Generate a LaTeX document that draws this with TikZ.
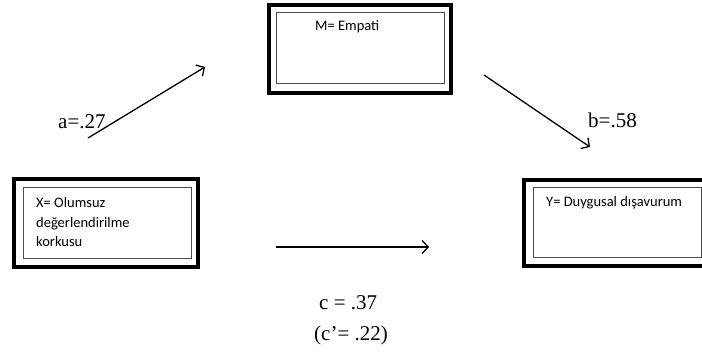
\documentclass[tikz,border=0pt]{standalone}
\usepackage{fontspec}
\setmainfont{Liberation Serif}
\newfontfamily\boxfont{Carlito}
\usetikzlibrary{arrows.meta}
\begin{document}
\begin{tikzpicture}[x=1pt,y=-1pt,
  outerbox/.style={draw=black,line width=4.2pt,minimum width=#1,inner sep=0pt},
  innerbox/.style={draw=black!70,line width=0.9pt,inner sep=0pt},
  boxtext/.style={font=\boxfont\fontsize{14.5}{19.5}\selectfont,anchor=base west,inner sep=0pt},
  lbl/.style={font=\fontsize{21}{24}\selectfont,anchor=base west,inner sep=0pt},
  arr/.style={line width=1.3pt,-{Straight Barb[length=6pt,width=13pt,line width=1.3pt]}}]
\useasboundingbox (0,0) rectangle (702,358);
\clip (0,0) rectangle (702,358);
% X box
\node[draw=black,line width=4.2pt,minimum width=184pt,minimum height=88pt,inner sep=0pt] (xo) at (106,223) {};
\node[innerbox,minimum width=168pt,minimum height=71pt] (xi) at (107,222.5) {};
\node[boxtext] (xt1) at (36,208) {X= Olumsuz};
\node[boxtext] (xt2) at (36,227.5) {değerlendirilme};
\node[boxtext] (xt3) at (36,247) {korkusu};
% M box
\node[draw=black,line width=4.2pt,minimum width=182pt,minimum height=88pt,inner sep=0pt] (mo) at (360,49) {};
\node[innerbox,minimum width=168pt,minimum height=71pt] (mi) at (360,47.5) {};
\node[boxtext] (mt) at (315,30.5) {M= Empati};
% Y box
\node[draw=black,line width=4.2pt,minimum width=186pt,minimum height=86pt,inner sep=0pt] (yo) at (617,223) {};
\node[innerbox,minimum width=168pt,minimum height=70pt] (yi) at (617,222) {};
\node[boxtext] (yt) at (546,206.5) {Y= Duygusal dışavurum};
% arrows
\coordinate (a1) at (88,138);
\coordinate (a2) at (205,67);
\coordinate (b1) at (484,75);
\coordinate (b2) at (590,147);
\coordinate (c1) at (276,247);
\coordinate (c2) at (429,247);
\draw[arr] (a1) -- (a2);
\draw[arr] (b1) -- (b2);
\draw[arr] (c1) -- (c2);
% labels
\node[lbl] (la) at (58,129) {a=.27};
\node[lbl] (lb) at (588,127.5) {b=.58};
\node[lbl] (lc) at (319,310) {c = .37};
\node[lbl] (lc2) at (314,340.5) {(c’= .22)};
\end{tikzpicture}
\end{document}
